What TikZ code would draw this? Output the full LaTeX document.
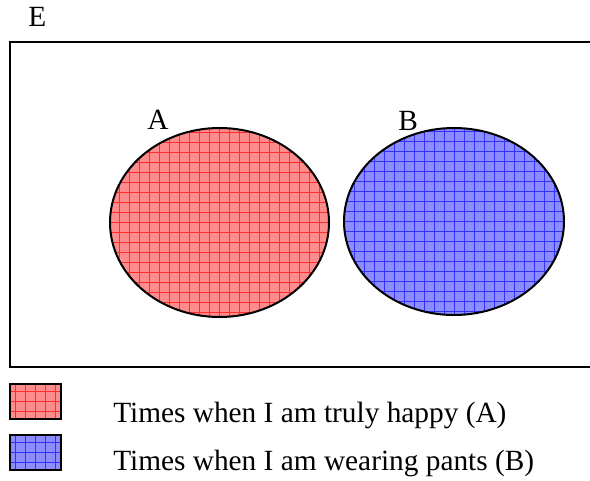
\documentclass[tikz,border=0pt]{standalone}
\usepackage{fontspec}
\setmainfont{Liberation Serif}
\usetikzlibrary{shapes.geometric}
\definecolor{redfill}{RGB}{255,140,140}
\definecolor{redline}{RGB}{255,45,45}
\definecolor{bluefill}{RGB}{140,140,255}
\definecolor{blueline}{RGB}{50,50,255}
\tikzset{
  venn/.style={ellipse, draw, line width=1.5pt, inner sep=0pt},
  hatched/.style={fill=#1fill, path picture={
      \draw[#1line, line width=0.45pt, step=7.5pt]
        (path picture bounding box.south west) grid (path picture bounding box.north east);}},
  keybox/.style={rectangle, draw, line width=1.5pt, inner sep=0pt,
    minimum width=38.25pt, minimum height=26.25pt},
  lbl/.style={font=\fontsize{22}{26}\selectfont, inner sep=0pt, anchor=base west}
}
\begin{document}
\begin{tikzpicture}[x=0.75pt, y=-0.75pt]
  \clip (0,0) rectangle (590,481);
  % 全体集合 E
  \draw[line width=1.5pt] (10,42) rectangle (620,367);
  \node[lbl] (labE) at (28,27) {E};
  % 事象 A, B (共通部分なし)
  \node[venn, hatched=red, minimum width=164.25pt, minimum height=141.75pt] (setA) at (219.5,222.5) {};
  \node[venn, hatched=blue, minimum width=165pt, minimum height=140.25pt] (setB) at (454,221.5) {};
  \node[lbl] (labA) at (147,130) {A};
  \node[lbl] (labB) at (398,131) {B};
  % 凡例
  \node[keybox, hatched=red] (keyA) at (35.5,401.5) {};
  \node[keybox, hatched=blue] (keyB) at (35.5,452.5) {};
  \node[lbl] (txtA) at (113,422) {Times when I am truly happy (A)};
  \node[lbl] (txtB) at (113,470) {Times when I am wearing pants (B)};
\end{tikzpicture}
\end{document}
